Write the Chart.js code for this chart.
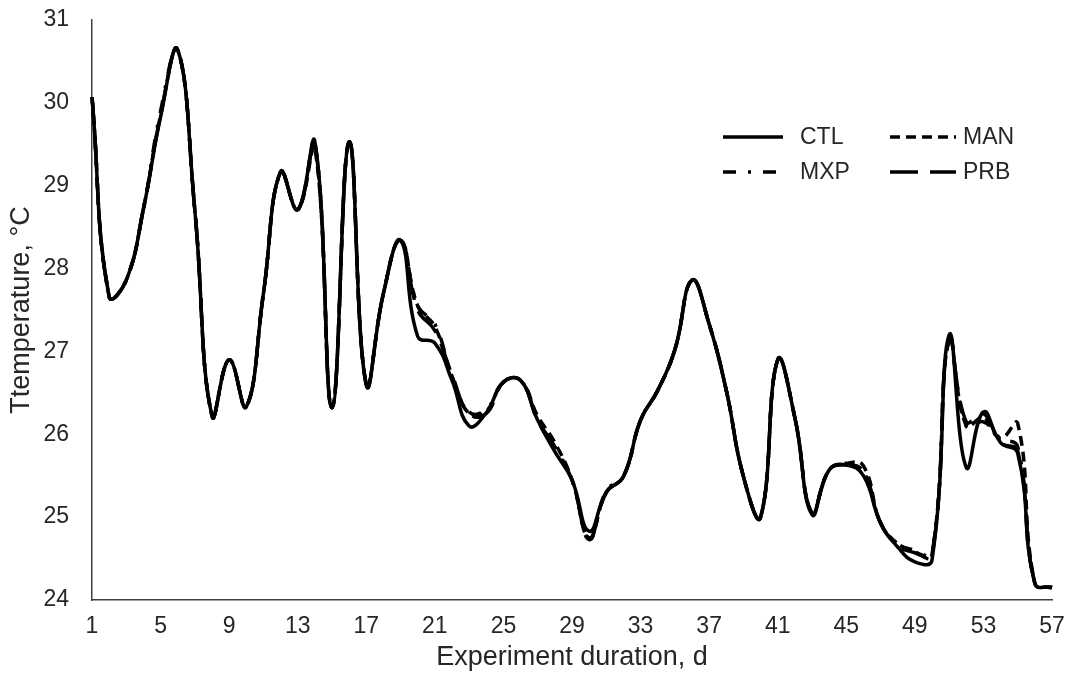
<!DOCTYPE html>
<html>
<head>
<meta charset="utf-8">
<script src="https://cdn.jsdelivr.net/npm/chart.js@4.4.1/dist/chart.umd.min.js"></script>
<style>
  html, body { margin: 0; padding: 0; background: #fff; }
  #wrap { width: 1068px; height: 682px; }
</style>
</head>
<body>
<div id="wrap"><canvas id="tempChart" width="1068" height="682"></canvas></div>
<script>
// days of the experiment
const days = ['1','2','3','4','5','6','7','8','9','10','11','12','13','14','15','16','17','18','19','20',
  '21','22','23','24','25','26','27','28','29','30','31','32','33','34','35','36','37','38','39','40',
  '41','42','43','44','45','46','47','48','49','50','51','52','53','54','55','56','57'];
const xTickLabels = ['1','5','9','13','17','21','25','29','33','37','41','45','49','53','57'];

// temperature, °C
const ctl = [30.07,27.66,27.86,28.72,29.83,30.64,28.7,26.22,26.9,26.33,27.7,29.17,28.71,29.53,26.32,29.53,26.6,27.7,28.34,27.18,
  27.1,26.65,26.1,26.26,26.63,26.65,26.17,25.79,25.45,24.83,25.3,25.49,26.17,26.53,27.02,27.86,27.33,26.53,25.49,25.0,
  26.9,26.2,25.03,25.57,25.63,25.5,24.93,24.64,24.46,24.48,27.2,25.6,26.27,25.9,25.77,24.2,24.15];
const man = [30.07,27.66,27.86,28.72,29.85,30.64,28.7,26.22,26.9,26.33,27.7,29.17,28.71,29.45,26.32,29.53,26.6,27.7,28.34,27.55,
  27.3,26.7,26.25,26.28,26.63,26.65,26.22,25.9,25.45,24.75,25.3,25.49,26.17,26.53,27.02,27.86,27.33,26.53,25.49,25.0,
  26.9,26.2,25.05,25.57,25.65,25.62,24.93,24.68,24.58,24.55,27.15,26.1,26.2,25.95,26.13,24.2,24.15];
const mxp = [30.07,27.66,27.86,28.72,29.9,30.64,28.7,26.22,26.9,26.33,27.7,29.17,28.71,29.53,26.32,29.53,26.6,27.7,28.34,27.55,
  27.33,26.7,26.27,26.3,26.63,26.65,26.17,25.82,25.45,24.73,25.32,25.49,26.17,26.53,27.02,27.86,27.33,26.53,25.49,25.0,
  26.9,26.2,25.05,25.57,25.63,25.55,24.93,24.68,24.6,24.55,27.15,26.1,26.15,25.95,25.85,24.2,24.15];
const prb = [30.07,27.66,27.86,28.72,29.85,30.64,28.7,26.22,26.9,26.33,27.7,29.17,28.71,29.5,26.32,29.53,26.6,27.7,28.34,27.5,
  27.25,26.72,26.25,26.25,26.63,26.65,26.17,25.85,25.45,24.75,25.3,25.49,26.17,26.53,27.02,27.86,27.33,26.53,25.49,25.0,
  26.9,26.2,25.05,25.57,25.63,25.55,24.93,24.66,24.57,24.53,27.15,26.15,26.25,25.9,25.8,24.2,24.15];

const seriesNames = ['CTL', 'MAN', 'MXP', 'PRB'];

const textColor = '#262626';
const axisColor = '#404040';
const fontFamily = '"Liberation Sans", Arial, sans-serif';

// legend drawn in two columns inside the plot, like the original
const legendPlugin = {
  id: 'twoColLegend',
  afterDraw(chart, args, opts) {
    const ctx = chart.ctx;
    ctx.save();
    ctx.font = '23px ' + fontFamily;
    ctx.fillStyle = textColor;
    ctx.textBaseline = 'middle';
    chart.data.datasets.forEach((ds, i) => {
      const col = i % 2, row = Math.floor(i / 2);
      const x = opts.x[col], y = opts.y[row];
      ctx.beginPath();
      ctx.strokeStyle = ds.borderColor;
      ctx.lineWidth = ds.borderWidth;
      ctx.setLineDash(ds.borderDash || []);
      ctx.moveTo(x, y);
      ctx.lineTo(x + opts.lineLen[col], y);
      ctx.stroke();
      ctx.setLineDash([]);
      ctx.fillText(ds.label, opts.textX[col], y + 1);
    });
    ctx.restore();
  }
};

function makeSet(label, data, dash, order) {
  return {
    label: label,
    data: data,
    borderColor: '#000',
    borderWidth: 3.5,
    borderDash: dash,
    borderCapStyle: 'butt',
    pointRadius: 0,
    fill: false,
    tension: 0.45,
    order: order
  };
}

new Chart(document.getElementById('tempChart'), {
  type: 'line',
  data: {
    labels: days,
    datasets: [
      makeSet(seriesNames[0], ctl, [], 0),
      makeSet(seriesNames[1], man, [10, 6], 1),
      makeSet(seriesNames[2], mxp, [13, 12, 3, 12], 2),
      makeSet(seriesNames[3], prb, [28, 12], 3)
    ]
  },
  options: {
    responsive: false,
    animation: false,
    layout: { padding: { top: 20, right: 16, bottom: 0, left: 0 } },
    plugins: {
      legend: { display: false },
      tooltip: { enabled: false },
      twoColLegend: { x: [723, 890], lineLen: [60, 66], textX: [800, 963], y: [137, 172] }
    },
    scales: {
      x: {
        type: 'category',
        offset: false,
        afterFit: s => { s.height = 82; s.paddingLeft = 0; s.paddingRight = 0; },
        grid: { display: false, drawTicks: false },
        border: { display: true, color: axisColor, width: 1.5 },
        ticks: {
          autoSkip: false,
          maxRotation: 0,
          padding: 13,
          color: textColor,
          font: { family: fontFamily, size: 23 },
          callback: function (val, i) {
            const lab = this.getLabelForValue(val);
            return xTickLabels.includes(lab) ? lab : null;
          }
        },
        title: {
          display: true,
          text: 'Experiment duration, d',
          color: textColor,
          font: { family: fontFamily, size: 27 },
          padding: { top: 0, bottom: 8 }
        }
      },
      y: {
        min: 24,
        max: 31,
        afterFit: s => { s.width = 92; s.paddingTop = 0; s.paddingBottom = 0; },
        grid: { display: false, drawTicks: false },
        border: { display: true, color: axisColor, width: 1.5 },
        ticks: {
          stepSize: 1,
          padding: 23,
          color: textColor,
          font: { family: fontFamily, size: 23 }
        },
        title: {
          display: true,
          text: 'Ttemperature, °C',
          color: textColor,
          font: { family: fontFamily, size: 27 },
          padding: { top: 5, bottom: 0 }
        }
      }
    }
  },
  plugins: [legendPlugin]
});
</script>
</body>
</html>
